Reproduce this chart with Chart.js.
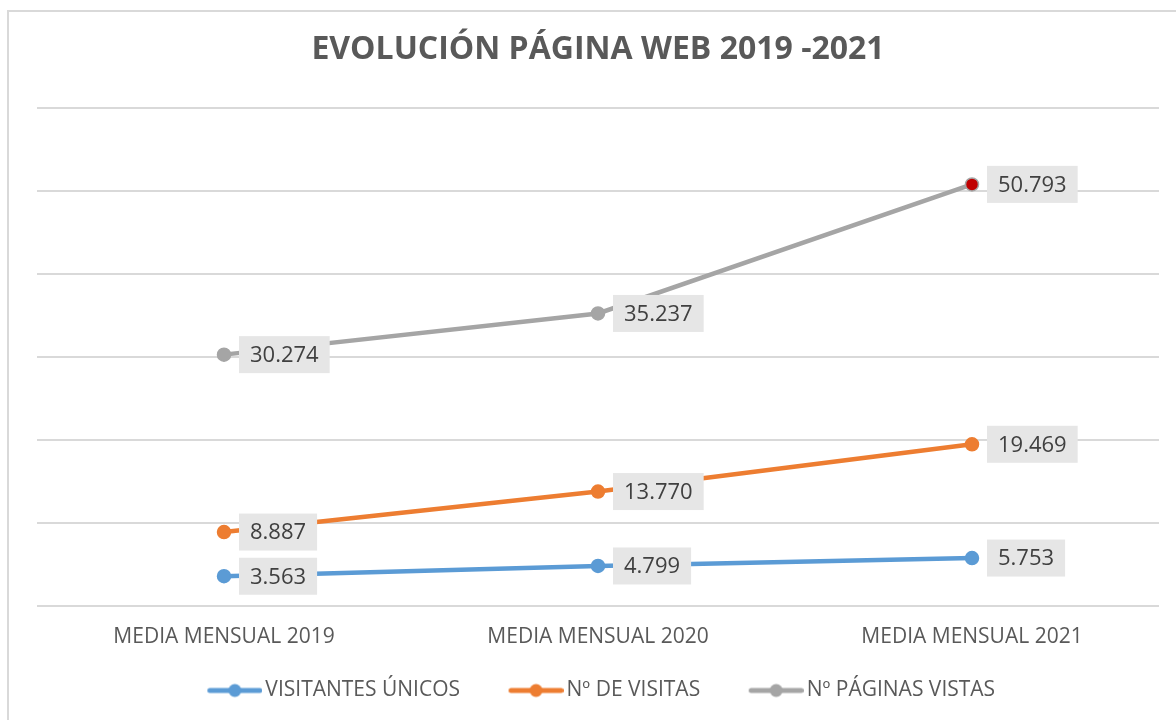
<!DOCTYPE html>
<html>
<head>
<meta charset="utf-8">
<script src="https://cdn.jsdelivr.net/npm/chart.js@4/dist/chart.umd.min.js"></script>
<style>
  html, body { margin: 0; padding: 0; background: #ffffff; }
  #wrap { width: 1176px; height: 720px; position: relative; }
</style>
</head>
<body>
<div id="wrap"><canvas id="c" width="1176" height="720"></canvas></div>
<script>
const categories = ['MEDIA MENSUAL 2019', 'MEDIA MENSUAL 2020', 'MEDIA MENSUAL 2021'];
const seriesNames = ['VISITANTES ÚNICOS', 'Nº DE VISITAS', 'Nº PÁGINAS VISTAS'];
const visitantesUnicos = [3563, 4799, 5753];
const numVisitas = [8887, 13770, 19469];
const paginasVistas = [30274, 35237, 50793];
const yTicks = { min: 0, max: 60000, step: 10000 };
const titleText = 'EVOLUCIÓN PÁGINA WEB 2019 -2021';

const FONT = "'Open Sans', 'DejaVu Sans', sans-serif";
const TEXT = '#595959';
const BLUE = '#5b9bd5', ORANGE = '#ed7d31', GRAY = '#a5a5a5', RED = '#c00000';

function fmt(v) { return String(v).replace(/\B(?=(\d{3})+(?!\d))/g, '.'); }

function markerImg(color) {
  const c = document.createElement('canvas');
  c.width = 99; c.height = 16;
  const g = c.getContext('2d');
  g.strokeStyle = color; g.lineWidth = 5; g.lineCap = 'round';
  g.beginPath(); g.moveTo(46.5, 8); g.lineTo(96.5, 8); g.stroke();
  g.fillStyle = color;
  g.beginPath(); g.arc(71.5, 8, 6.5, 0, Math.PI * 2); g.fill();
  return c;
}

const frame = {
  id: 'frame',
  beforeDraw(chart) {
    const ctx = chart.ctx;
    ctx.save();
    ctx.fillStyle = '#ffffff';
    ctx.fillRect(0, 0, chart.width, chart.height);
    ctx.strokeStyle = '#d9d9d9';
    ctx.lineWidth = 2;
    ctx.strokeRect(8, 11, 1300, 900);
    ctx.restore();
  }
};

const legendShift = {
  id: 'legendShift',
  afterLayout(chart) {
    if (chart.legend) { chart.legend.left -= 15; chart.legend.right -= 15; }
  }
};

const dataLabels = {
  id: 'dataLabels',
  afterDatasetsDraw(chart) {
    const ctx = chart.ctx;
    ctx.save();
    ctx.font = '22px ' + FONT;
    ctx.textAlign = 'center';
    ctx.textBaseline = 'middle';
    chart.data.datasets.forEach((ds, i) => {
      const meta = chart.getDatasetMeta(i);
      meta.data.forEach((pt, j) => {
        const txt = fmt(ds.data[j]);
        const w = ctx.measureText(txt).width + 22;
        const h = 37;
        const x = pt.x + 15;
        ctx.fillStyle = '#e6e6e6';
        ctx.fillRect(x, pt.y - h / 2, w, h);
        ctx.fillStyle = '#404040';
        ctx.fillText(txt, x + w / 2, pt.y + 1);
      });
    });
    ctx.restore();
  }
};

function build() {
  const imgs = [markerImg(BLUE), markerImg(ORANGE), markerImg(GRAY)];
  new Chart(document.getElementById('c'), {
    type: 'line',
    data: {
      labels: categories,
      datasets: [
        { label: seriesNames[0], data: visitantesUnicos, borderColor: BLUE, backgroundColor: BLUE,
          pointBackgroundColor: BLUE, pointBorderColor: BLUE },
        { label: seriesNames[1], data: numVisitas, borderColor: ORANGE, backgroundColor: ORANGE,
          pointBackgroundColor: ORANGE, pointBorderColor: ORANGE },
        { label: seriesNames[2], data: paginasVistas, borderColor: GRAY, backgroundColor: GRAY,
          pointBackgroundColor: [GRAY, GRAY, RED], pointBorderColor: GRAY }
      ]
    },
    options: {
      responsive: false,
      animation: false,
      devicePixelRatio: 1,
      layout: { padding: { left: 37, right: 17, top: 0, bottom: 9 } },
      elements: {
        line: { borderWidth: 4.5, tension: 0, borderCapStyle: 'round' },
        point: { radius: 6.5, borderWidth: 1.5, hoverRadius: 6.5 }
      },
      scales: {
        x: {
          offset: true,
          grid: { display: false, drawTicks: false },
          border: { display: false },
          ticks: { color: TEXT, font: { family: FONT, size: 21 }, padding: 18.5 }
        },
        y: {
          min: yTicks.min, max: yTicks.max,
          grid: { color: '#d9d9d9', lineWidth: 2, drawTicks: false },
          border: { display: false },
          ticks: { display: false, stepSize: yTicks.step }
        }
      },
      plugins: {
        tooltip: { enabled: false },
        title: {
          display: true, text: titleText, color: TEXT,
          font: { family: FONT, size: 32, weight: 'bold' },
          padding: { top: 30.8, bottom: 38.8 }
        },
        legend: {
          position: 'bottom',
          labels: {
            color: TEXT,
            font: { family: FONT, size: 21 },
            usePointStyle: true,
            pointStyleWidth: 84,
            padding: 12,
            generateLabels(chart) {
              const items = Chart.defaults.plugins.legend.labels.generateLabels(chart);
              items.forEach((it, i) => { it.pointStyle = imgs[i]; });
              return items;
            }
          }
        }
      }
    },
    plugins: [frame, legendShift, dataLabels]
  });
}

if (document.fonts && document.fonts.load) {
  Promise.all([
    document.fonts.load("20px 'Open Sans'"),
    document.fonts.load("bold 32px 'Open Sans'")
  ]).then(build, build);
} else {
  build();
}
</script>
</body>
</html>
